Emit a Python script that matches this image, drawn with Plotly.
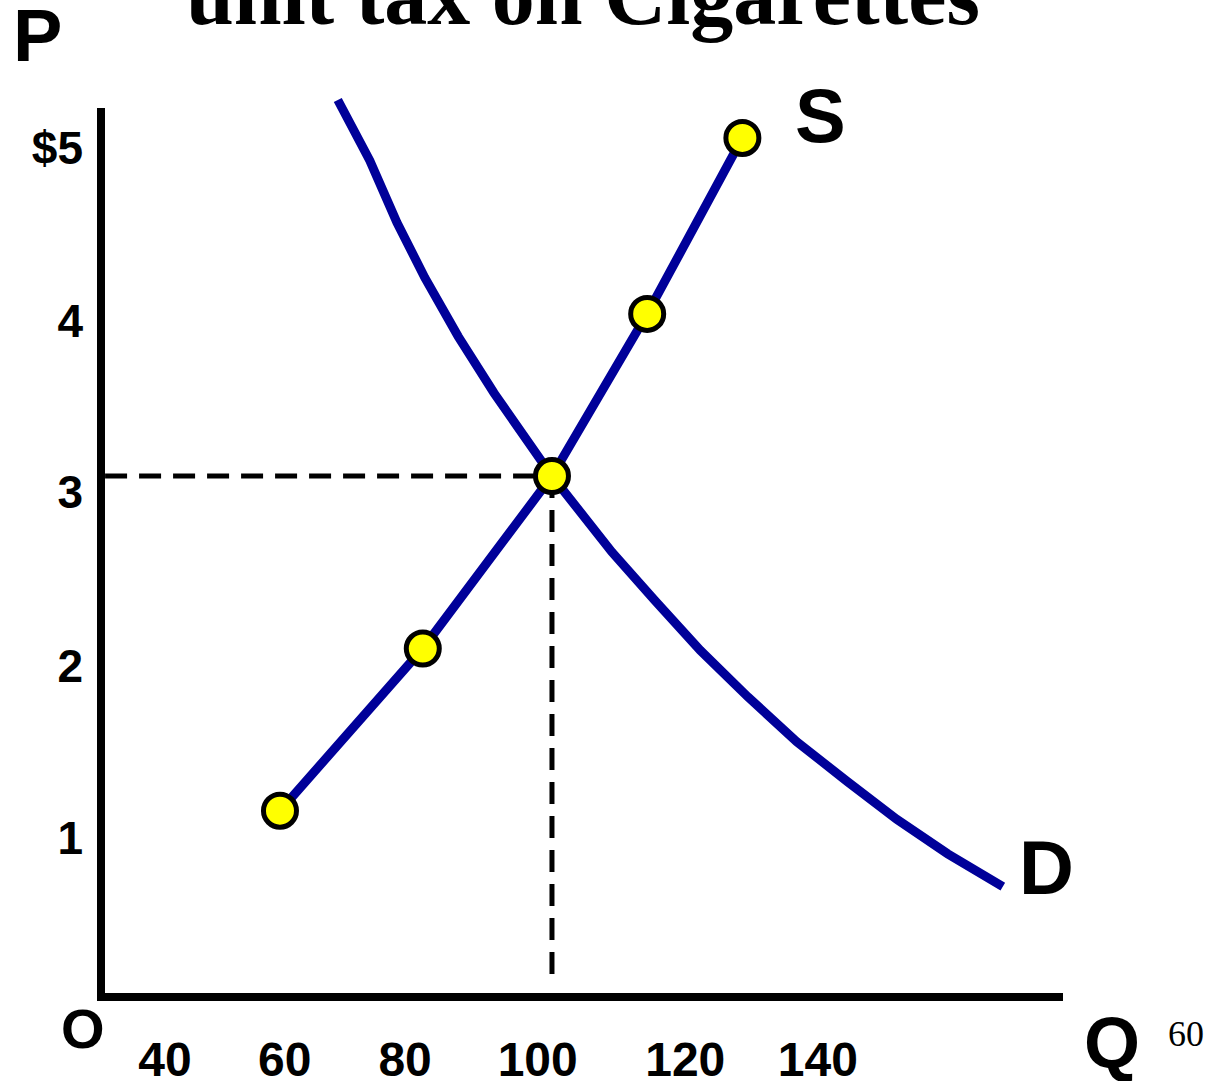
import plotly.graph_objects as go

# supply schedule (quantity, price)
supply_q = [60, 81, 100, 114, 128]
supply_p = [1.06, 2.0, 3.0, 3.94, 4.96]

# demand curve
demand_q = [68.5, 73.2, 77.2, 81.3, 86.2, 91.5, 100, 108.8, 115.1, 121.8, 128.8, 136.0, 143.4, 150.7, 158.2, 166.3]
demand_p = [5.18, 4.83, 4.47, 4.15, 3.81, 3.48, 3.0, 2.56, 2.28, 1.99, 1.72, 1.46, 1.23, 1.01, 0.81, 0.62]

# equilibrium
eq_q = 100
eq_p = 3

x_tick_labels = ["40", "60", "80", "100", "120", "140"]
y_tick_labels = ["1", "2", "3", "4", "$5"]

W, H = 1218, 1081
L, R, T, B = 101, 155, 95, 84
XR = [33.68, 175.15]
YR = [-0.02, 5.209]

# label positions (slightly off the values, as on the slide)
x_tick_pos = [43.1, 60.7, 78.4, 97.9, 119.6, 139.1]
y_tick_pos = [0.90, 1.90, 2.91, 3.90, 4.90]


def paper(px, py):
    # page pixel -> paper coordinates
    return (px - L) / (W - L - R), (H - B - py) / (H - T - B)


BLUE = "#000099"
SANS = "Liberation Sans, Arial, sans-serif"
SERIF = "Liberation Serif, Times New Roman, serif"

fig = go.Figure()

# dashed guides to the equilibrium
fig.add_trace(go.Scatter(x=[XR[0] + 0.6, eq_q], y=[eq_p, eq_p], mode="lines",
                         line=dict(color="black", width=5, dash="22px,12px"),
                         hoverinfo="skip", showlegend=False))
fig.add_trace(go.Scatter(x=[eq_q, eq_q], y=[eq_p, 0.07], mode="lines",
                         line=dict(color="black", width=5, dash="22px,12px"),
                         hoverinfo="skip", showlegend=False))

fig.add_trace(go.Scatter(x=demand_q, y=demand_p, mode="lines",
                         line=dict(color=BLUE, width=9),
                         hoverinfo="skip", showlegend=False))
fig.add_trace(go.Scatter(x=supply_q, y=supply_p, mode="lines+markers",
                         line=dict(color=BLUE, width=9),
                         marker=dict(size=33, color="#FFFF00", line=dict(color="black", width=5)),
                         cliponaxis=False, hoverinfo="skip", showlegend=False))

# axis lines
x0, y0 = paper(97, 1001)
x1, y1 = paper(1063, 108)
fig.add_shape(type="line", xref="paper", yref="paper", x0=0, x1=0, y0=y0, y1=y1,
              line=dict(color="black", width=8))
fig.add_shape(type="line", xref="paper", yref="paper", x0=x0, x1=x1, y0=0, y1=0,
              line=dict(color="black", width=8))


def label(text, px, py, size, font=SANS, weight="bold"):
    ax, ay = paper(px, py)
    fig.add_annotation(text=text, x=ax, y=ay, xref="paper", yref="paper",
                       showarrow=False, xanchor="center", yanchor="middle",
                       font=dict(family=font, size=size, color="black", weight=weight))


label("P", 37, 36, 74)
label("S", 820, 115, 76)
label("D", 1046, 867, 76)
label("O", 83, 1028, 56)
label("Q", 1112, 1043, 72)
label("60", 1186, 1034, 36, font=SERIF, weight="normal")
label("unit tax on Cigarettes", 583, -5, 86, font=SERIF)

fig.update_xaxes(range=XR, showgrid=False, zeroline=False, showline=False, automargin=False,
                 tickvals=x_tick_pos, ticktext=x_tick_labels, ticks="",
                 tickfont=dict(family=SANS, size=48, color="black", weight="bold"),
                 ticklabelstandoff=30)
fig.update_yaxes(range=YR, showgrid=False, zeroline=False, showline=False, automargin=False,
                 tickvals=y_tick_pos, ticktext=y_tick_labels, ticks="",
                 tickfont=dict(family=SANS, size=46, color="black", weight="bold"),
                 ticklabelstandoff=17)

fig.update_layout(width=W, height=H, margin=dict(l=L, r=R, t=T, b=B),
                  paper_bgcolor="white", plot_bgcolor="white")

# drop the default page margin so the figure sits at the window corner
fig.write_html("out.html", config={"displayModeBar": False},
               post_script="document.body.style.margin='0';document.body.style.overflow='hidden';")
